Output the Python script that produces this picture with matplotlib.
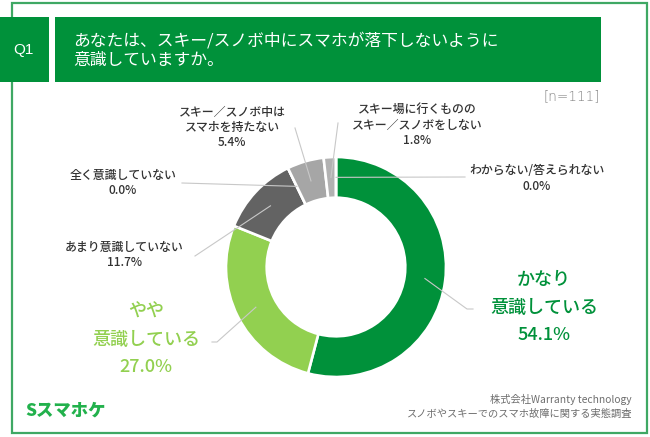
"""
Q1 donut chart — awareness of phone drop while skiing/snowboarding
"""
import matplotlib
matplotlib.use("Agg")
import matplotlib.pyplot as plt
from matplotlib.patches import Rectangle
import numpy as np

plt.rcParams["font.family"] = ["Noto Sans CJK JP", "DejaVu Sans"]

# ── data (clockwise from 12 o'clock) ────────────────────────────────────────
categories = [
    "かなり\n意識している",
    "やや\n意識している",
    "あまり意識していない",
    "全く意識していない",
    "スキー／スノボ中は\nスマホを持たない",
    "スキー場に行くものの\nスキー／スノボをしない",
    "わからない/答えられない",
]
shares = [54.1, 27.0, 11.7, 0.0, 5.4, 1.8, 0.0]
n_total = 111

# ── styling ─────────────────────────────────────────────────────────────────
C_GREEN   = "#00913A"
C_LIGHT   = "#92D050"
C_FRAME   = "#3FA864"
C_LEADER  = "#C8C8C8"
C_TXT     = "#333333"
C_FOOT    = "#6E6E6E"
wedge_colors = [C_GREEN, C_LIGHT, "#636363", "#8C8C8C", "#A6A6A6", "#B2B2B2", "#D9D9D9"]

W, H = 650, 437
fig = plt.figure(figsize=(W / 100, H / 100), dpi=100)
fig.patch.set_facecolor("white")

# overlay in pixel coordinates (y down)
ov = fig.add_axes([0, 0, 1, 1])
ov.set_xlim(0, W)
ov.set_ylim(H, 0)
ov.axis("off")

# ── frame & header ──────────────────────────────────────────────────────────
ov.add_patch(Rectangle((12, 3), 635, 430, fill=False, edgecolor=C_FRAME, lw=1.6, zorder=1))
ov.add_patch(Rectangle((0, 17), 49, 65, facecolor=C_GREEN, edgecolor="none", zorder=2))
ov.add_patch(Rectangle((55, 17), 546, 65, facecolor=C_GREEN, edgecolor="none", zorder=2))
ov.text(23, 50, "Q1", color="white", fontsize=11, ha="center", va="center",
        family="Liberation Sans", zorder=3)
ov.text(73, 41, "あなたは、スキー/スノボ中にスマホが落下しないように",
        color="white", fontsize=12.1, ha="left", va="center", zorder=3)
ov.text(73, 60, "意識していますか。", color="white", fontsize=12.1,
        ha="left", va="center", zorder=3)
ov.text(600, 96, f"[n={n_total}]", color="#808080", fontsize=9.8,
        ha="right", va="center", family="DejaVu Sans", fontweight="light")

# ── footer ──────────────────────────────────────────────────────────────────
ov.text(25, 411, "Sスマホケ", color="#22B14C", fontsize=12.5, fontweight="heavy",
        ha="left", va="center")
ov.text(632, 399, "株式会社Warranty technology", color=C_FOOT, fontsize=7.4,
        ha="right", va="center")
ov.text(632, 414, "スノボやスキーでのスマホ故障に関する実態調査", color=C_FOOT,
        fontsize=7.4, ha="right", va="center")

# ── donut ───────────────────────────────────────────────────────────────────
CX, CY, R = 336, 267, 110   # pixel centre / outer radius
RING = 0.37
ax = fig.add_axes([(CX - R) / W, (H - CY - R) / H, 2 * R / W, 2 * R / H])
ax.pie(shares, colors=wedge_colors, startangle=90, counterclock=False, radius=1,
       wedgeprops=dict(width=RING, edgecolor="white", linewidth=1.9))
ax.set_xlim(-1, 1)
ax.set_ylim(-1, 1)
ax.set_aspect("equal")
ax.axis("off")

cum = np.cumsum([0] + shares[:-1])
mid_deg = 90 - 3.6 * (cum + np.array(shares) / 2)
r_mid = 1 - RING / 2

# label placement: (centre x, first line y, line gap, font size, colour)
label_pos = [
    (544, 280, 27.5, 13, C_GREEN),
    (146, 312, 27.5, 13, C_LIGHT),
    (124, 247, 16, 8.6, C_TXT),
    (123, 175, 16, 8.6, C_TXT),
    (232, 112, 15, 8.6, C_TXT),
    (417, 109, 16, 8.6, C_TXT),
    (537, 170, 16, 8.6, C_TXT),
]
# leader lines: pixel start point, optional short elbow
leaders = [
    [(473, 309), (467, 309)],
    [(212, 342), (217, 342)],
    [(195, 256)],
    [(182, 183)],
    [(295, 128)],
    [(338, 123)],
    [(465, 177)],
]

# leader lines live on their own layer above the wedges
top = fig.add_axes([0, 0, 1, 1])
top.set_xlim(0, W)
top.set_ylim(H, 0)
top.axis("off")
ov.set_zorder(0)
ax.set_zorder(1)
top.set_zorder(2)

for cat, v, (lx, ly, gap, fs, col), pts, ang in zip(
        categories, shares, label_pos, leaders, mid_deg):
    lines = cat.split("\n") + [f"{v:.1f}%"]
    for i, t in enumerate(lines):
        ov.text(lx, ly + i * gap, t, color=col, fontsize=fs, fontweight="medium",
                ha="center", va="center")
    # leader: pixel points then into the ring at mid-angle
    tx = r_mid * np.cos(np.deg2rad(ang))
    ty = r_mid * np.sin(np.deg2rad(ang))
    end_px = top.transData.inverted().transform(ax.transData.transform((tx, ty)))
    xs = [p[0] for p in pts] + [end_px[0]]
    ys = [p[1] for p in pts] + [end_px[1]]
    top.plot(xs, ys, color=C_LEADER, lw=0.8)

plt.savefig("out.png", dpi=100, facecolor="white")
